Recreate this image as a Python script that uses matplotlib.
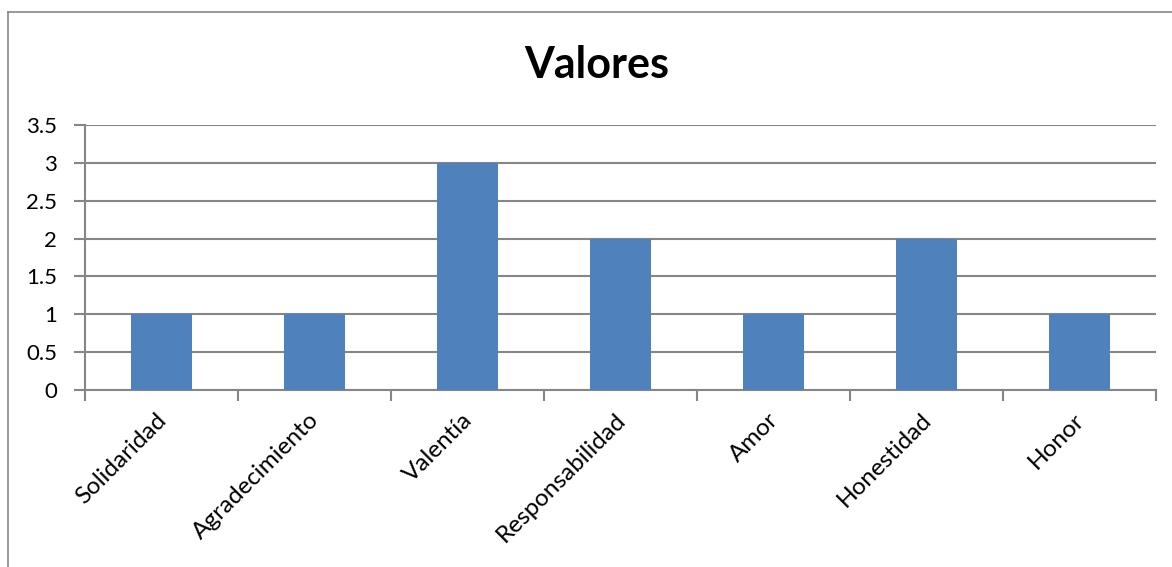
import matplotlib.pyplot as plt
from matplotlib.lines import Line2D

plt.rcParams['font.family'] = ['Lato', 'DejaVu Sans']

categorias = ['Solidaridad', 'Agradecimiento', 'Valentía', 'Responsabilidad',
              'Amor', 'Honestidad', 'Honor']
valores = [1, 1, 3, 2, 1, 2, 1]
yticks = [0, 0.5, 1, 1.5, 2, 2.5, 3, 3.5]
ytick_labels = ['0', '0.5', '1', '1.5', '2', '2.5', '3', '3.5']

gris = '#868686'

fig = plt.figure(figsize=(11.72, 5.67), dpi=100)
ax = fig.add_axes([0.0725, 0.3122, 0.9138, 0.4673])

x = list(range(len(categorias)))
ax.bar(x, valores, width=0.4, color='#4F81BD', zorder=3)

ax.set_xlim(-0.5, len(categorias) - 0.5)
ax.set_ylim(0, 3.5)
ax.set_yticks(yticks)
ax.set_yticklabels(ytick_labels, fontsize=16)
ax.yaxis.grid(True, color=gris, linewidth=1.5, zorder=0)

# marcas del eje x entre categorias
ax.set_xticks([i - 0.5 for i in range(len(categorias) + 1)], minor=False)
ax.set_xticklabels([''] * (len(categorias) + 1))
ax.set_xticks([i - 0.04 for i in x], minor=True)
ax.set_xticklabels(categorias, minor=True, rotation=45, ha='right',
                   rotation_mode='anchor', fontsize=17.5)
ax.tick_params(axis='x', which='minor', length=0, pad=14)
ax.tick_params(axis='x', which='major', length=8, width=1.5, color=gris, direction='out')
ax.tick_params(axis='y', length=8, width=1.5, color=gris, direction='out', pad=12)

for s in ['top', 'right']:
    ax.spines[s].set_visible(False)
for s in ['left', 'bottom']:
    ax.spines[s].set_color(gris)
    ax.spines[s].set_linewidth(1.5)

fig.text(0.509, 0.885, 'Valores', ha='center', va='center', fontsize=31, fontweight='bold')

# borde del grafico
fig.add_artist(Line2D([8 / 1172, 8 / 1172], [0, 1 - 12 / 567], color=gris, linewidth=1.2))
fig.add_artist(Line2D([8 / 1172, 1], [1 - 12 / 567, 1 - 12 / 567], color=gris, linewidth=1.2))

fig.savefig('out.png', dpi=100)
